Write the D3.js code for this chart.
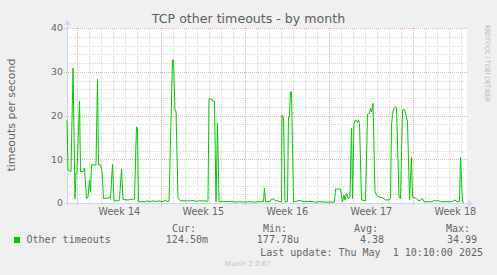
<!DOCTYPE html>
<html>
<head>
<meta charset="utf-8">
<script src="https://cdn.jsdelivr.net/npm/d3@7"></script>
<style>
  body { margin: 0; background: #F0F0F0; }
  svg { display: block; }
</style>
</head>
<body>
<div id="graph"></div>
<script>
// hours since the start of the graph window, and the value read at that moment
const hours = [0, 2, 8, 12, 16, 18, 20, 25, 27, 33, 35, 39, 42, 45, 47, 49, 58, 61, 63, 67, 70, 73, 82, 85, 87, 91, 94, 104, 105, 109, 112, 122, 135, 139, 141, 143, 157,
  160, 166, 174, 178, 184, 190, 197, 200, 204, 211, 213, 216, 218, 222, 227, 238, 246, 252, 256, 266, 276, 281, 282, 284, 289, 291, 295, 298, 301, 304, 310, 318,
  326, 336, 346, 356, 366, 376, 386, 393, 395, 397, 406, 409, 414, 417, 420, 424, 429, 430, 433, 436, 441, 443, 445, 447, 449, 453, 458, 466, 474,
  486, 496, 506, 516, 526, 535, 537, 547, 551, 554, 556, 559, 563, 566, 569, 571, 574, 577, 581, 583, 585, 589, 597, 601, 605, 607, 609, 612, 616, 619, 624, 631, 637,
  644, 647, 649, 652, 654, 657, 659, 664, 667, 671, 675, 677, 681, 685, 689, 691, 699, 704, 711, 714, 730, 732, 744, 747, 770, 776, 780, 785, 787, 791, 794];
const timeouts = [19, 7.5, 7.2, 30.8, 1, 6.8, 6.8, 23.3, 7.2, 7.2, 8, 1, 1.4, 5.3, 2.6, 8.7, 8.7, 28.3, 8.7, 8.7, 7.2, 1, 1.1, 1.4, 1.1, 8.8, 0.5, 0.5, 1, 7.8, 0.8, 0.7, 0.9, 17.4, 16.7, 0.3, 0.3,
  0.5, 0.3, 0.5, 0.3, 0.5, 0.3, 0.6, 0.4, 0.4, 32.7, 32.7, 21, 21, 1, 0.5, 0.5, 0.5, 0.6, 0.4, 0.5, 0.5, 0.4, 0.5, 23.8, 23.8, 23.3, 23.3, 0.3, 18.2, 0.3, 0.4, 0.3,
  0.4, 0.2, 0.3, 0.2, 0.3, 0.2, 0.3, 0.3, 3.4, 0.3, 0.3, 0.9, 0.9, 0.4, 0.7, 0.3, 0.3, 20.1, 19.4, 0.3, 0.3, 19.7, 19.7, 25.4, 25.4, 0.3, 0.4, 0.6, 0.3,
  0.4, 0.2, 0.3, 0.2, 0.2, 0.2, 3.2, 3.2, 0.3, 1.8, 0.7, 2.2, 1, 1.4, 17.1, 1, 18.2, 19, 18.4, 19, 18.2, 0.7, 0.5, 20.3, 20.5, 21.6, 20.8, 22.8, 2.6, 1.8, 1.4, 1.2, 0.7,
  0.7, 1, 17.8, 21, 21.6, 22, 21.6, 1.4, 1, 21.3, 21.3, 20.5, 18.6, 0.7, 10.4, 1.4, 1, 0.5, 1, 0.3, 0.3, 0.5, 0.5, 0.3, 0.3, 0.7, 0.3, 0.3, 10.4, 0.3, 0.12];

const yTicks = [0, 10, 20, 30, 40];
const weekLabels = ['Week 14', 'Week 15', 'Week 16', 'Week 17', 'Week 18'];
const legendHead = ['Cur:', 'Min:', 'Avg:', 'Max:'];
const legendVals = ['124.50m', '177.78u', '4.38', '34.99'];

const w = 497, h = 275;
const pLeft = 67, pRight = 467, pTop = 28, pBottom = 203;
const start = new Date(Date.UTC(2025, 2, 30, 3, 20));
const end = d3.utcHour.offset(start, 800);

const x = d3.scaleUtc().domain([start, end]).range([pLeft, pRight]);
const y = d3.scaleLinear().domain([0, 40]).range([pBottom, pTop]);

const svg = d3.select('#graph').append('svg')
  .attr('width', w).attr('height', h);

svg.append('rect').attr('width', w).attr('height', h).attr('fill', '#F0F0F0');
svg.append('rect').attr('x', pLeft).attr('y', pTop)
  .attr('width', pRight - pLeft).attr('height', pBottom - pTop).attr('fill', '#fff');

const grid = svg.append('g').attr('shape-rendering', 'crispEdges');
const minorCol = '#dadada', majorCol = '#ebb3b3';
// minor grid
const days = d3.utcDay.range(start, end);
grid.selectAll('.vmin').data(days).enter().append('line')
  .attr('x1', d => Math.round(x(d)) + 0.5).attr('x2', d => Math.round(x(d)) + 0.5)
  .attr('y1', pTop).attr('y2', pBottom)
  .attr('stroke', minorCol).attr('stroke-dasharray', '1,1');
grid.selectAll('.hmin').data(d3.range(2, 40, 2).filter(v => v % 10)).enter().append('line')
  .attr('x1', pLeft).attr('x2', pRight)
  .attr('y1', d => Math.round(y(d)) + 0.5).attr('y2', d => Math.round(y(d)) + 0.5)
  .attr('stroke', minorCol).attr('stroke-dasharray', '1,1');
// major grid
const mondays = d3.utcMonday.range(start, end);
grid.selectAll('.vmaj').data(mondays).enter().append('line')
  .attr('x1', d => Math.round(x(d)) + 0.5).attr('x2', d => Math.round(x(d)) + 0.5)
  .attr('y1', pTop).attr('y2', pBottom + 3)
  .attr('stroke', majorCol).attr('stroke-dasharray', '1,1');
grid.selectAll('.hmaj').data(yTicks.filter(v => v > 0)).enter().append('line')
  .attr('x1', pLeft - 3).attr('x2', pRight)
  .attr('y1', d => Math.round(y(d)) + 0.5).attr('y2', d => Math.round(y(d)) + 0.5)
  .attr('stroke', majorCol).attr('stroke-dasharray', '1,1');

// axes
const axisCol = '#CFD6F8';
svg.append('line').attr('x1', pLeft - 3).attr('x2', pRight + 2)
  .attr('y1', pBottom + 0.5).attr('y2', pBottom + 0.5)
  .attr('stroke', axisCol).attr('shape-rendering', 'crispEdges');
svg.append('line').attr('x1', pLeft + 0.5).attr('x2', pLeft + 0.5)
  .attr('y1', pBottom + 3).attr('y2', pTop - 4)
  .attr('stroke', axisCol).attr('shape-rendering', 'crispEdges');
svg.append('path').attr('d', `M${pRight + 1},${pBottom - 3} L${pRight + 6},${pBottom + 0.5} L${pRight + 1},${pBottom + 4} Z`)
  .attr('fill', axisCol);
svg.append('path').attr('d', `M${pLeft - 3},${pTop - 3} L${pLeft + 0.5},${pTop - 8} L${pLeft + 4},${pTop - 3} Z`)
  .attr('fill', axisCol);

// tick labels
svg.selectAll('.ylab').data(yTicks).enter().append('text')
  .attr('x', pLeft - 4).attr('y', d => y(d) + 3.4)
  .attr('text-anchor', 'end')
  .style('font-family', 'DejaVu Sans').style('font-size', '9.4px').attr('fill', '#666')
  .text(d => d);

svg.selectAll('.xlab').data(mondays).enter().append('text')
  .attr('x', d => x(d3.utcHour.offset(d, 84)))
  .attr('y', 215)
  .attr('text-anchor', 'middle')
  .style('font-family', 'DejaVu Sans').style('font-size', '9.6px').attr('fill', '#666')
  .text((d, i) => weekLabels[i]);

// series
const line = d3.line()
  .x((d, i) => x(d3.utcMinute.offset(start, hours[i] * 60)))
  .y(d => y(d));
svg.append('path').datum(timeouts)
  .attr('d', line)
  .attr('fill', 'none').attr('stroke', '#00CC00').attr('stroke-width', 1);

// titles
svg.append('text').attr('x', 248.5).attr('y', 22.5).attr('text-anchor', 'middle')
  .style('font-family', 'DejaVu Sans').style('font-size', '12.6px').attr('fill', '#606060')
  .text('TCP other timeouts - by month');

svg.append('text').attr('transform', 'translate(14.5,115) rotate(-90)')
  .attr('text-anchor', 'middle')
  .style('font-family', 'DejaVu Sans').style('font-size', '11px').attr('fill', '#666')
  .text('timeouts per second');

svg.append('text').attr('transform', 'translate(484.5,25) rotate(90)')
  .attr('textLength', 77).attr('lengthAdjust', 'spacingAndGlyphs')
  .style('font-family', 'DejaVu Sans').style('font-size', '7px').attr('fill', '#bcbcbc')
  .text('RRDTOOL / TOBI OETIKER');

// legend
const mono = g => g.style('font-family', 'DejaVu Sans Mono').style('font-size', '10px').attr('fill', '#666');
svg.append('rect').attr('x', 14).attr('y', 237).attr('width', 6).attr('height', 6).attr('fill', '#00CC00');
svg.append('text').attr('x', 26.5).attr('y', 243).call(mono).text('Other timeouts');

const headRight = [196, 287, 378, 470];
svg.selectAll('.lhead').data(legendHead).enter().append('text')
  .attr('x', (d, i) => headRight[i]).attr('y', 232).attr('text-anchor', 'end')
  .call(mono).text(d => d);
const valRight = [208, 299, 384, 477];
svg.selectAll('.lval').data(legendVals).enter().append('text')
  .attr('x', (d, i) => valRight[i]).attr('y', 243).attr('text-anchor', 'end')
  .call(mono).text(d => d);

svg.append('text').attr('x', 483).attr('y', 255.5).attr('text-anchor', 'end')
  .call(mono).style('white-space', 'pre').attr('xml:space', 'preserve')
  .text('Last update: Thu May  1 10:10:00 2025');

svg.append('text').attr('x', 248).attr('y', 266).attr('text-anchor', 'middle')
  .style('font-family', 'DejaVu Sans').style('font-size', '7px').attr('fill', '#c4c4c4')
  .text('Munin 2.0.67');
</script>
</body>
</html>
